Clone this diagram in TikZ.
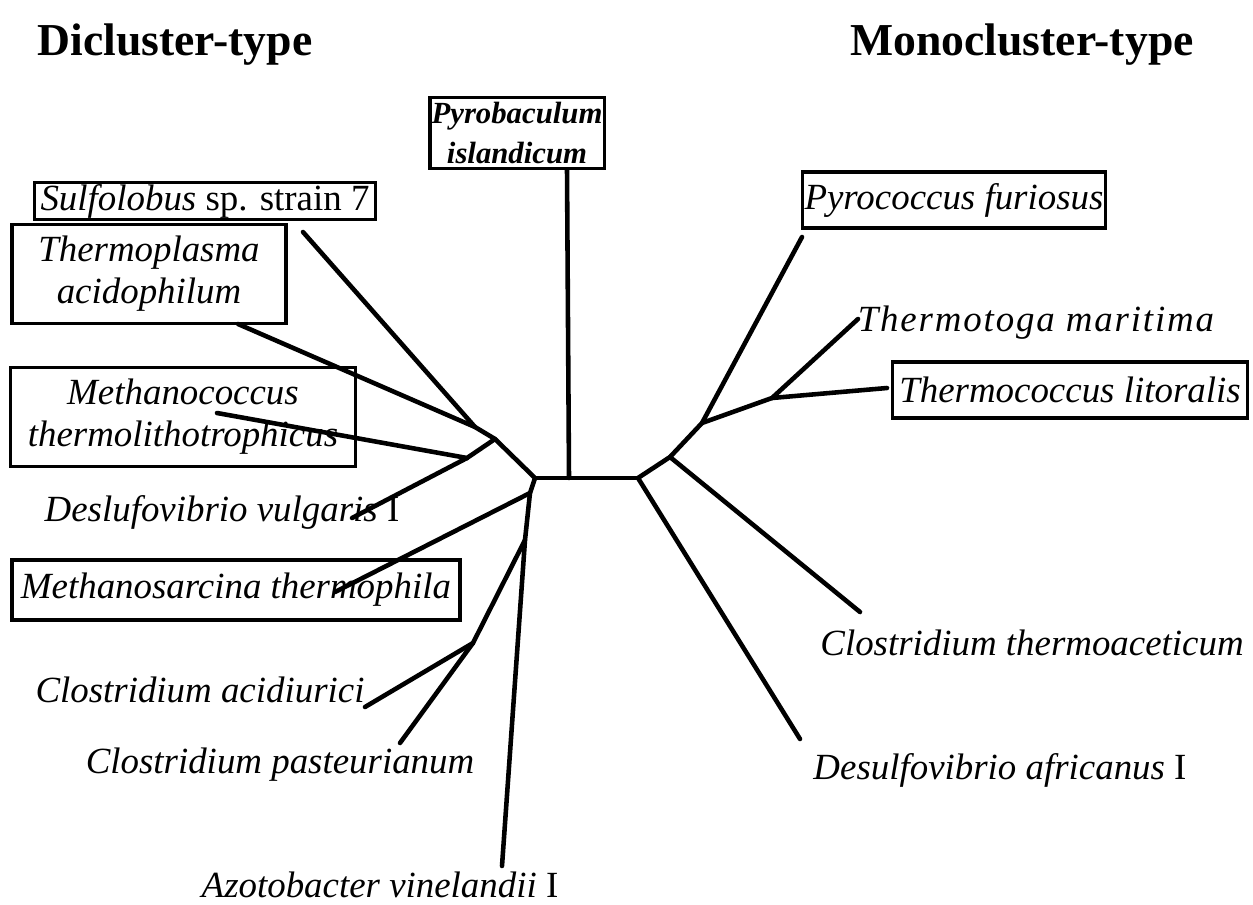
\documentclass[tikz,border=0pt]{standalone}
\usepackage{fontspec}
\setmainfont{Liberation Serif}
\usetikzlibrary{positioning}

\begin{document}
\begin{tikzpicture}[x=0.02cm,y=-0.02cm,
    branch/.style={line width=2.6pt,line cap=round},
    taxon/.style={font=\fontsize{21}{24}\selectfont\itshape,inner sep=1pt,align=center},
    boxed/.style={taxon,draw,line width=1.9pt},
    heading/.style={font=\fontsize{26}{30}\selectfont\bfseries}]
    \useasboundingbox (0,0) rectangle (1253,905);
    % headings
    \node[heading] (dicl) at (175,45) {Dicluster-type};
    \node[heading] (mono) at (1022,45) {Monocluster-type};
    % taxa, left side
    \node[boxed,font=\fontsize{17.5}{23}\selectfont\bfseries\itshape,minimum width=3.42cm,minimum height=1.42cm] (pis) at (517,133) {Pyrobaculum\\islandicum};
    \node[boxed,minimum width=6.82cm,minimum height=0.7cm] (sul) at (205,201) {Sulfolobus \upshape sp. strain 7};
    \node[boxed,minimum width=5.48cm,minimum height=1.98cm] (tac) at (149,274) {Thermoplasma\\acidophilum};
    \node[boxed,minimum width=6.9cm,minimum height=1.98cm] (mth) at (183,417) {Methanococcus\\thermolithotrophicus};
    \node[taxon] (dvu) at (222,512) {Deslufovibrio vulgaris \upshape I};
    \node[boxed,minimum width=8.96cm,minimum height=1.2cm] (mst) at (236,590) {Methanosarcina thermophila};
    \node[taxon] (cac) at (200,690) {Clostridium acidiurici};
    \node[taxon] (cpa) at (280,765) {Clostridium pasteurianum};
    \node[taxon] (avi) at (380,885) {Azotobacter vinelandii \upshape I};
    % taxa, right side
    \node[boxed,minimum width=5.84cm,minimum height=1.12cm] (pfu) at (954,200) {Pyrococcus furiosus};
    \node[taxon,font=\fontsize{21}{24}\selectfont\itshape\addfontfeature{LetterSpace=5}] (tma) at (1036,323) {Thermotoga maritima};
    \node[boxed,minimum width=7.1cm,minimum height=1.12cm] (tli) at (1070,390) {Thermococcus litoralis};
    \node[taxon] (cth) at (1032,643) {Clostridium thermoaceticum};
    \node[taxon] (daf) at (1000,770) {Desulfovibrio africanus \upshape I};
    % inner nodes of the tree
    \coordinate (l0) at (535,478);
    \coordinate (r0) at (638,478);
    \coordinate (p0) at (569,478);
    \coordinate (l1) at (495,439);
    \coordinate (l1a) at (475,427);
    \coordinate (l2) at (467,458);
    \coordinate (t1) at (530,493);
    \coordinate (t2) at (525,540);
    \coordinate (cn) at (473,643);
    \coordinate (r1) at (670,457);
    \coordinate (r2) at (702,423);
    \coordinate (r3) at (772,398);
    % leaf ends
    \coordinate (pisE) at (567,170);
    \coordinate (sulE) at (303,232);
    \coordinate (tacE) at (238,324);
    \coordinate (mthE) at (217,413);
    \coordinate (dvuE) at (352,518);
    \coordinate (mstE) at (335,592);
    \coordinate (cacE) at (365,707);
    \coordinate (cpaE) at (400,743);
    \coordinate (aviE) at (502,866);
    \coordinate (pfuE) at (802,237);
    \coordinate (tmaE) at (858,319);
    \coordinate (tliE) at (887,388);
    \coordinate (cthE) at (860,612);
    \coordinate (dafE) at (800,739);
    % branches
    \draw[branch] (l0) -- (r0);
    \draw[branch] (p0) -- (pisE);
    \draw[branch] (l0) -- (l1) -- (l1a) -- (sulE);
    \draw[branch] (l1a) -- (tacE);
    \draw[branch] (l1) -- (l2) -- (mthE);
    \draw[branch] (l2) -- (dvuE);
    \draw[branch] (l0) -- (t1) -- (t2) -- (aviE);
    \draw[branch] (t1) -- (mstE);
    \draw[branch] (t2) -- (cn) -- (cacE);
    \draw[branch] (cn) -- (cpaE);
    \draw[branch] (r0) -- (r1) -- (r2) -- (pfuE);
    \draw[branch] (r2) -- (r3) -- (tmaE);
    \draw[branch] (r3) -- (tliE);
    \draw[branch] (r1) -- (cthE);
    \draw[branch] (r0) -- (dafE);
\end{tikzpicture}
\end{document}
